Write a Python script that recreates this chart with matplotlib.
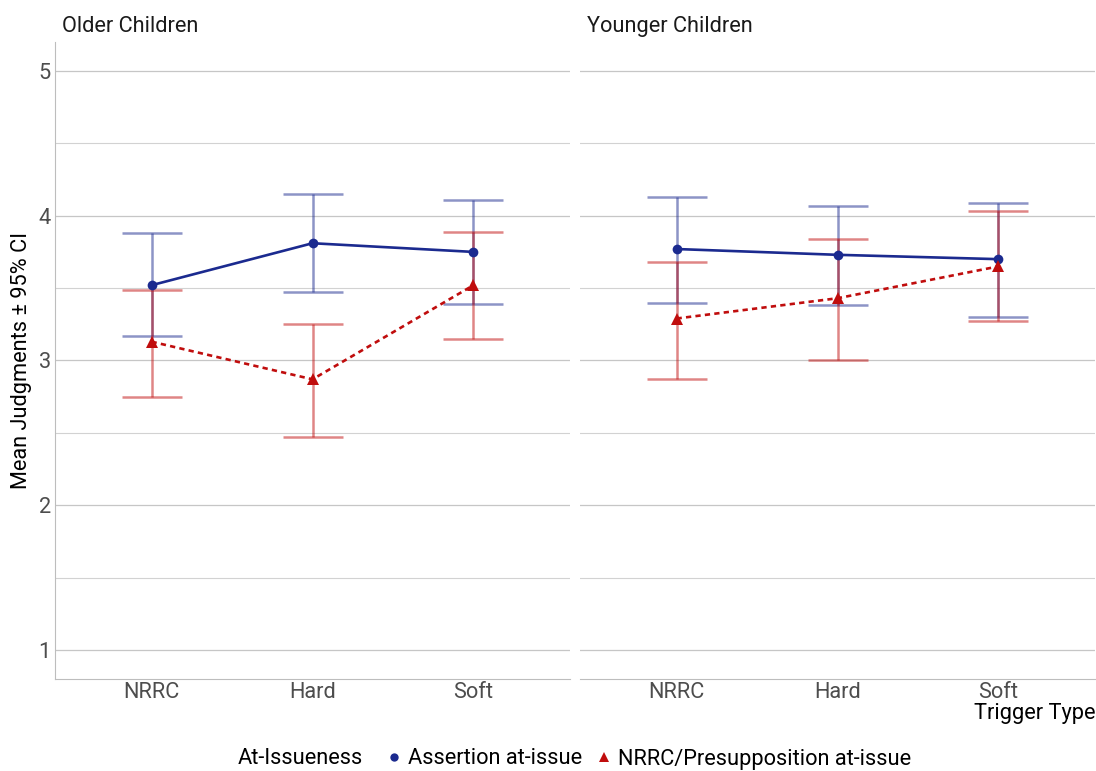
import matplotlib
matplotlib.use("Agg")
import matplotlib.pyplot as plt
from matplotlib.lines import Line2D
from matplotlib.ticker import MultipleLocator

plt.rcParams["font.family"] = ["Roboto", "DejaVu Sans"]

# trigger types on the x axis
triggers = ["NRRC", "Hard", "Soft"]
panels = ["Older Children", "Younger Children"]
series = ["Assertion at-issue", "NRRC/Presupposition at-issue"]

# means and 95% CI bounds, per panel (older, younger)
assert_mean = [[3.52, 3.81, 3.75], [3.77, 3.73, 3.70]]
assert_lo = [[3.17, 3.47, 3.39], [3.40, 3.38, 3.30]]
assert_hi = [[3.88, 4.15, 4.11], [4.13, 4.07, 4.09]]

presup_mean = [[3.13, 2.87, 3.52], [3.29, 3.43, 3.65]]
presup_lo = [[2.75, 2.47, 3.15], [2.87, 3.00, 3.27]]
presup_hi = [[3.49, 3.25, 3.89], [3.68, 3.84, 4.03]]

BLUE = "#1b2a8f"
RED = "#c00d0d"
FS = 15.7

fig = plt.figure(figsize=(10.96, 7.71), dpi=100)
axes = [
    fig.add_axes([55 / 1096, 1 - 679 / 771, 515 / 1096, 637 / 771]),
    fig.add_axes([580 / 1096, 1 - 679 / 771, 515 / 1096, 637 / 771]),
]

x = [1, 2, 3]
for i, ax in enumerate(axes):
    for mean, lo, hi, col, mk, ms, ls in [
        (assert_mean[i], assert_lo[i], assert_hi[i], BLUE, "o", 7, "-"),
        (presup_mean[i], presup_lo[i], presup_hi[i], RED, "^", 8, (0, (2, 1.6))),
    ]:
        yerr = [[m - l for m, l in zip(mean, lo)], [h - m for m, h in zip(mean, hi)]]
        ax.errorbar(x, mean, yerr=yerr, fmt="none", ecolor=col, alpha=0.5,
                    elinewidth=1.8, capsize=21.6, capthick=1.8, zorder=2)
        ax.plot(x, mean, color=col, lw=1.9, ls=ls, marker=mk, ms=ms,
                markeredgewidth=0, zorder=3)

    ax.set_xlim(0.4, 3.6)
    ax.set_ylim(0.8, 5.2)
    ax.set_xticks(x)
    ax.set_xticklabels(triggers)
    ax.yaxis.set_major_locator(MultipleLocator(1))
    ax.yaxis.set_minor_locator(MultipleLocator(0.5))
    ax.grid(axis="y", which="major", color="#c6c6c6", lw=0.9)
    ax.grid(axis="y", which="minor", color="#d2d2d2", lw=0.8)
    ax.set_axisbelow(True)
    ax.tick_params(axis="both", which="both", length=0, labelsize=FS,
                   labelcolor="#4d4d4d")
    ax.tick_params(axis="x", pad=2)
    ax.tick_params(axis="y", pad=3)
    ax.tick_params(axis="y", which="minor", labelleft=False)
    for s in ["top", "right"]:
        ax.spines[s].set_visible(False)
    ax.spines["bottom"].set_color("#bdbdbd")
    ax.spines["left"].set_color("#bdbdbd")
    ax.set_title(panels[i], loc="left", fontsize=FS, color="#1a1a1a", pad=7, x=0.014)

axes[1].spines["left"].set_visible(False)
axes[1].tick_params(axis="y", labelleft=False)

axes[0].set_ylabel("Mean Judgments \u00b1 95% CI", fontsize=FS, color="#000000", labelpad=5)
axes[1].set_xlabel("Trigger Type", fontsize=FS, color="#000000", loc="right", labelpad=0)

fig.text(238 / 1096, 1 - 759 / 771, "At-Issueness", fontsize=FS, va="center", ha="left")
handles = [
    Line2D([], [], ls="none", marker="o", ms=6, color=BLUE, markeredgewidth=0),
    Line2D([], [], ls="none", marker="^", ms=7, color=RED, markeredgewidth=0),
]
fig.legend(handles, series, loc="center left", bbox_to_anchor=(383 / 1096, 1 - 759 / 771),
           ncol=2, frameon=False, fontsize=FS, handlelength=1.0, handletextpad=0.15,
           columnspacing=0.5, borderpad=0, borderaxespad=0)

fig.savefig("out.png", dpi=100, facecolor="white")
